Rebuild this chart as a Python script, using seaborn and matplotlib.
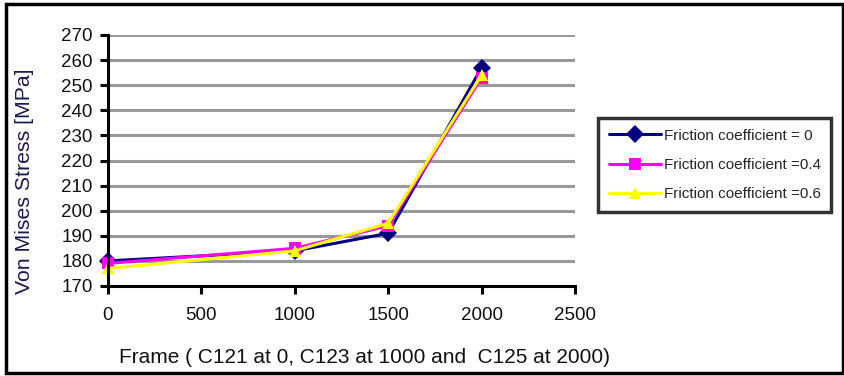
import matplotlib
matplotlib.use("Agg")
import matplotlib.pyplot as plt
import seaborn as sns
import pandas as pd
from matplotlib.patches import Rectangle

frames = [0, 1000, 1500, 2000]
stress_mu0 = [180, 184, 191, 257]
stress_mu04 = [179, 185, 194, 253]
stress_mu06 = [177, 184, 195, 254]
labels = ["Friction coefficient = 0", "Friction coefficient =0.4", "Friction coefficient =0.6"]
colors = ["#000080", "#FF00FF", "#FFFF00"]
markers = ["D", "s", "^"]

df = pd.DataFrame({
    "Frame": frames * 3,
    "Stress": stress_mu0 + stress_mu04 + stress_mu06,
    "Series": [labels[0]] * 4 + [labels[1]] * 4 + [labels[2]] * 4,
})

sns.set_style("white")
plt.rcParams['font.family'] = ['Liberation Sans', 'DejaVu Sans']

fig = plt.figure(figsize=(8.45, 3.76), dpi=100)
ax = fig.add_axes([108/845, 1-286/376, (575-108)/845, (286-35)/376])

sns.lineplot(data=df, x="Frame", y="Stress", hue="Series", style="Series",
             hue_order=labels, style_order=labels, palette=colors,
             markers=markers, dashes=False, markersize=9, linewidth=2.2,
             markeredgewidth=0, ax=ax, legend=True)

ax.set_xlim(0, 2500)
ax.set_ylim(170, 270)
ax.set_xticks(range(0, 2501, 500))
ax.set_yticks(range(170, 271, 10))
ax.yaxis.grid(True, color="#999999", linewidth=2.2)
ax.set_axisbelow(True)
for s in ["top", "right"]:
    ax.spines[s].set_visible(False)
for s in ["left", "bottom"]:
    ax.spines[s].set_color("black")
    ax.spines[s].set_linewidth(2.2)
ax.tick_params(axis="both", direction="out", length=6, width=2.2, color="black",
               labelsize=13.5, left=True, bottom=True, labelcolor="#111111", pad=5)
ax.tick_params(axis="x", pad=9)
ax.set_xlabel("Frame ( C121 at 0, C123 at 1000 and  C125 at 2000)", fontsize=15,
              color="#111111")
ax.xaxis.set_label_coords((365-108)/467, -(348-286)/251)
ax.set_ylabel("Von Mises Stress [MPa]", fontsize=15.3, color="#1a1a50")
ax.yaxis.set_label_coords(-(108-34)/467, (286-181)/251)
for line in ax.lines:
    line.set_clip_on(False)

leg = ax.legend(loc="center left", bbox_to_anchor=(598/845, 1-165/376),
                bbox_transform=fig.transFigure, frameon=True, fontsize=11,
                handlelength=3.4, handletextpad=0.2, labelspacing=1.0,
                borderpad=0.7, borderaxespad=0, fancybox=False)
leg.get_frame().set_edgecolor("black")
leg.get_frame().set_linewidth(2.5)

fig.patches.append(Rectangle((6/845, 3/376), 837/845, 369/376, transform=fig.transFigure,
                             fill=False, edgecolor="black", linewidth=2.5))
fig.savefig("out.png", dpi=100)
